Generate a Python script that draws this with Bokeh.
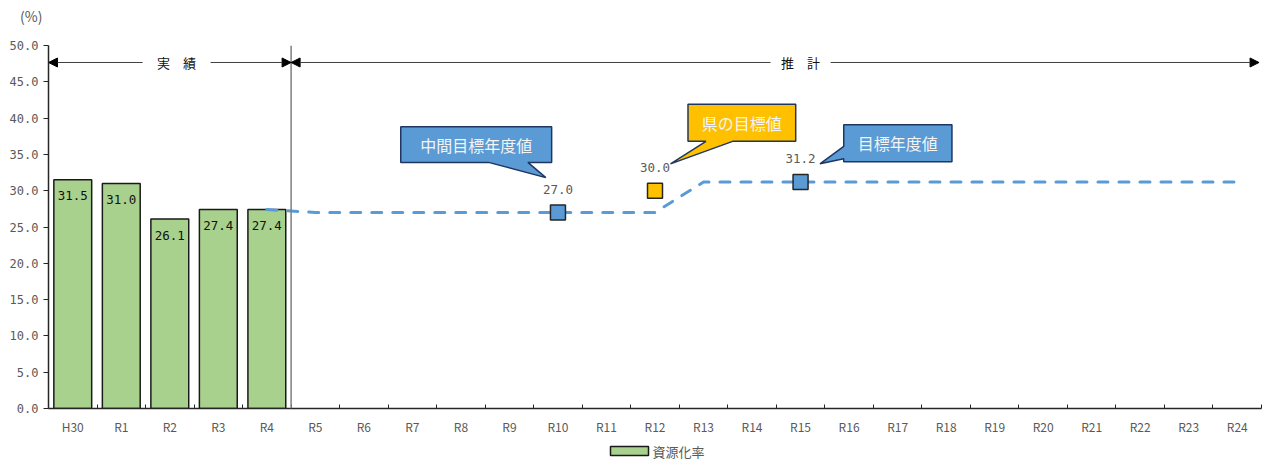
from bokeh.plotting import figure
from bokeh.layouts import column
from bokeh.models import (Range1d, FixedTicker, Label, Arrow, NormalHead, Span, Div,
                          NumeralTickFormatter)
from bokeh.embed import file_html
from bokeh.resources import INLINE
from bokeh.core.properties import value

# ---------------- data ----------------
categories = ["H30", "R1", "R2", "R3", "R4", "R5", "R6", "R7", "R8", "R9", "R10",
              "R11", "R12", "R13", "R14", "R15", "R16", "R17", "R18", "R19", "R20",
              "R21", "R22", "R23", "R24"]
actual_years = ["H30", "R1", "R2", "R3", "R4"]
actual_values = [31.5, 31.0, 26.1, 27.4, 27.4]

proj_years = ["R4", "R5", "R6", "R7", "R8", "R9", "R10", "R11", "R12", "R13", "R14",
              "R15", "R16", "R17", "R18", "R19", "R20", "R21", "R22", "R23", "R24"]
proj_values = [27.4, 27.0, 27.0, 27.0, 27.0, 27.0, 27.0, 27.0, 27.0, 31.2, 31.2,
               31.2, 31.2, 31.2, 31.2, 31.2, 31.2, 31.2, 31.2, 31.2, 31.2]

target_years = ["R10", "R12", "R15"]
target_values = [27.0, 30.0, 31.2]
target_colors = ["#5B9BD5", "#FFC000", "#5B9BD5"]

callout_texts = ["中間目標年度値", "県の目標値", "目標年度値"]
callout_colors = ["#5B9BD5", "#FFC000", "#5B9BD5"]
# callout shapes in data units (category index, %)
callout_boxes = [(6.76, 9.87, 33.9, 38.8), (12.68, 14.90, 36.8, 41.9), (15.89, 18.12, 34.0, 39.1)]
callout_tails = [
    ("bottom", 8.57, 9.38, 9.75, 31.8),
    ("bottom", 13.05, 13.60, 12.32, 33.7),
    ("left", 34.4, 36.1, 15.40, 33.7),
]

y_ticks = [0, 5, 10, 15, 20, 25, 30, 35, 40, 45, 50]
legend_label = "資源化率"
unit_label = "(%)"
section_labels = ["実　績", "推　計"]

FONT = value("Noto Sans CJK JP")
MONO = value("DejaVu Sans Mono")
GRAY = "#595959"
W = 1266
BAR_FILL, BAR_LINE = "#A9D18E", "#1A1A1A"

idx = {c: i for i, c in enumerate(categories)}
n = len(categories)

# ---- top strip: unit label ----
top = Div(text=unit_label, width=W, height=30, margin=0,
          styles={"padding-left": "20px", "padding-top": "7px", "font-size": "14px",
                  "font-family": "'Noto Sans CJK JP'", "color": GRAY, "line-height": "18px",
                  "box-sizing": "border-box"})

# ---- main chart ----
p = figure(width=W, height=410, output_backend="svg", toolbar_location=None,
           x_range=Range1d(-0.5, n - 0.5), y_range=Range1d(0, 50),
           min_border_left=48, min_border_right=5, min_border_top=15, min_border_bottom=32)
p.outline_line_color = None
p.xgrid.visible = False
p.ygrid.visible = False

xa = p.xaxis[0]
xa.ticker = FixedTicker(ticks=list(range(n)), minor_ticks=[i + 0.5 for i in range(-1, n)])
xa.major_label_overrides = {i: c for i, c in enumerate(categories)}
xa.major_tick_line_color = None
xa.minor_tick_in = 4
xa.minor_tick_out = 0
xa.minor_tick_line_color = "#262626"
xa.axis_line_color = "#262626"
xa.axis_line_width = 1.5
xa.major_label_text_font = "Noto Sans CJK JP"
xa.major_label_text_font_size = "12px"
xa.major_label_text_color = GRAY
xa.major_label_standoff = 3

ya = p.yaxis[0]
ya.ticker = FixedTicker(ticks=y_ticks)
ya.formatter = NumeralTickFormatter(format="0.0")
ya.major_tick_in = 0
ya.major_tick_out = 5
ya.minor_tick_line_color = None
ya.major_tick_line_color = "#262626"
ya.axis_line_color = "#262626"
ya.axis_line_width = 1.5
ya.major_label_text_font = "DejaVu Sans Mono"
ya.major_label_text_font_size = "12px"
ya.major_label_text_color = GRAY
ya.major_label_standoff = 5

# bars
bx = [idx[c] for c in actual_years]
p.vbar(x=bx, top=actual_values, width=0.78, fill_color=BAR_FILL, line_color=BAR_LINE, line_width=1.5)
p.text(x=bx, y=actual_values, text=[f"{v:.1f}" for v in actual_values],
       text_align="center", text_baseline="middle", y_offset=16,
       text_font=MONO, text_font_size="12.5px", text_color="#111111")

# separator
p.add_layout(Span(location=idx["R4"] + 0.5, dimension="height", line_color="#7F7F7F", line_width=1.5))

# projection line
p.line(x=[idx[c] for c in proj_years], y=proj_values, line_color="#5B9BD5",
       line_width=3, line_dash="10 11", line_cap="round")

# target markers
tx = [idx[c] for c in target_years]
p.scatter(x=tx, y=target_values, marker="square", size=15, fill_color=target_colors,
          line_color="#262626", line_width=1.5)
p.text(x=tx, y=target_values, text=[f"{v:.1f}" for v in target_values],
       text_align="center", text_baseline="middle", y_offset=-23,
       text_font=MONO, text_font_size="12.5px", text_color=GRAY)

# callouts
for (x0, x1, y0, y1), tail, col, txt in zip(callout_boxes, callout_tails, callout_colors, callout_texts):
    _, a, b, tipx, tipy = tail
    if tail[0] == "bottom":
        xs = [x0, x1, x1, b, tipx, a, x0]
        ys = [y1, y1, y0, y0, tipy, y0, y0]
    else:
        xs = [x0, x1, x1, x0, x0, tipx, x0]
        ys = [y1, y1, y0, y0, a, tipy, b]
    p.patch(xs, ys, fill_color=col, line_color="#1F3760", line_width=1.5)
    p.text(x=[(x0 + x1) / 2], y=[(y0 + y1) / 2], text=[txt], text_align="center",
           text_baseline="middle", text_font=FONT, text_font_size="16px", text_color="#F4F4F4")

# section arrows
yarr = 47.66
left_end, sep, right_end = -0.5, idx["R4"] + 0.5, n - 0.55
sections = [(left_end, sep, 2.14, 0.7), (sep, right_end, 15.0, 0.62)]
for (a, b, c, g), lab in zip(sections, section_labels):
    p.add_layout(Arrow(end=NormalHead(size=9, fill_color="black", line_color="black"),
                       x_start=c - g, y_start=yarr, x_end=a, y_end=yarr,
                       line_color="#404040", line_width=1))
    p.add_layout(Arrow(end=NormalHead(size=9, fill_color="black", line_color="black"),
                       x_start=c + g, y_start=yarr, x_end=b, y_end=yarr,
                       line_color="#404040", line_width=1))
    p.add_layout(Label(x=c, y=yarr, text=lab, text_align="center", text_baseline="middle",
                       text_font="Noto Sans CJK JP", text_font_size="13px", text_color="#111111"))

# ---- bottom strip: legend (swatch + label), strip coordinates are pixels ----
bot = figure(width=W, height=22, output_backend="svg", toolbar_location=None,
             x_range=Range1d(48, W - 5), y_range=Range1d(0, 22),
             min_border_left=48, min_border_right=5, min_border_top=0, min_border_bottom=0,
             x_axis_location=None, y_axis_location=None)
bot.outline_line_color = None
for g in bot.grid:
    g.visible = False
bot.rect(x=[629], y=[11.5], width=38, height=9, width_units="screen", height_units="screen",
         fill_color=BAR_FILL, line_color=BAR_LINE, line_width=1.5)
bot.text(x=[652], y=[11.5], text=[legend_label], text_align="left", text_baseline="middle",
         text_font=FONT, text_font_size="13px", text_color=GRAY)

layout = column(top, p, bot, spacing=0)
open("out.html", "w").write(file_html(layout, INLINE))
